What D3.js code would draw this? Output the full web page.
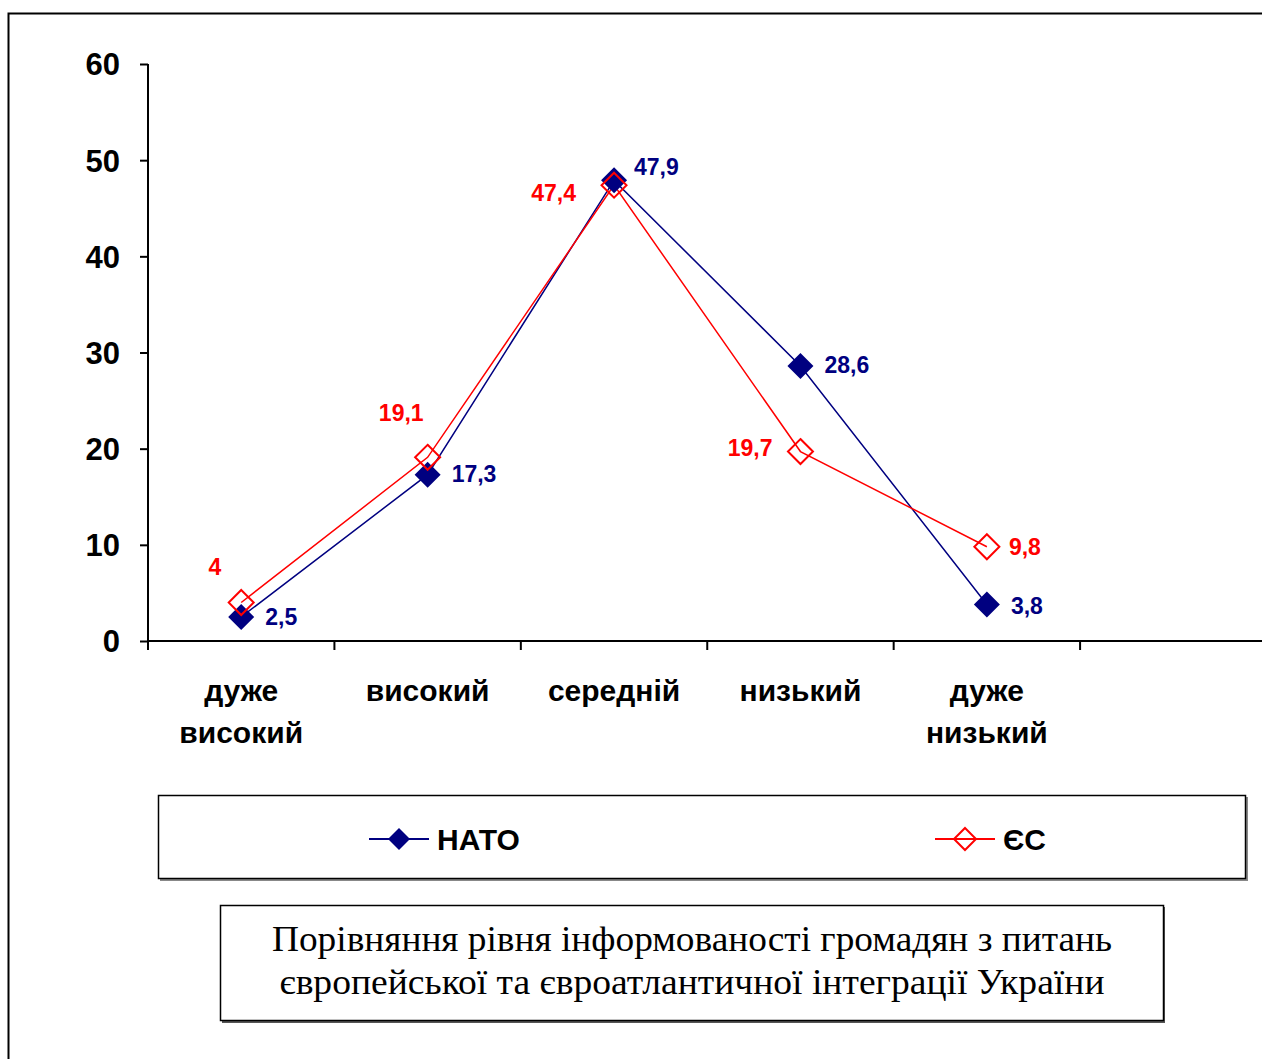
<!DOCTYPE html>
<html><head><meta charset="utf-8">
<script src="https://cdn.jsdelivr.net/npm/d3@7"></script>
<style>body{margin:0;background:#fff}svg{display:block}</style>
</head><body>
<svg id="c" width="1262" height="1059"></svg>
<script>
const categories = [["дуже","високий"],["високий"],["середній"],["низький"],["дуже","низький"]];
const natoValues = [2.5, 17.3, 47.9, 28.6, 3.8];
const esValues = [4, 19.1, 47.4, 19.7, 9.8];
const natoLabels = ["2,5","17,3","47,9","28,6","3,8"];
const esLabels = ["4","19,1","47,4","19,7","9,8"];
const yTicks = [0,10,20,30,40,50,60];
const seriesNames = ["НАТО","ЄС"];
const titleLines = ["Порівняння рівня інформованості громадян з питань","європейської та євроатлантичної інтеграції України"];
// label placement (layout only): [dx, dy, anchor]
const natoLabelPos = [[24,0,"start"],[24,-1,"start"],[20,-13,"start"],[24,-1,"start"],[24,1,"start"]];
const esLabelPos = [[-20,-36,"end"],[-4,-44,"end"],[-38,8,"end"],[-28,-4,"end"],[22,0,"start"]];

const svg = d3.select("#c");
const font = "'Liberation Sans', Arial, sans-serif";
const navy = "#000080", red = "#ff0000";

// outer frame
svg.append("path").attr("d","M8.5,1062 L8.5,13.5 L1265,13.5").attr("fill","none").attr("stroke","#000").attr("stroke-width",2);

const x = d3.scaleBand().domain(d3.range(6)).range([148, 1266.5]).paddingInner(0).paddingOuter(0);
const y = d3.scaleLinear().domain([0,60]).range([641, 64]);
const cx = i => x(i) + x.bandwidth()/2;

// y axis
const ya = svg.append("g").attr("transform","translate(148,0)")
  .call(d3.axisLeft(y).tickValues(yTicks).tickSize(8).tickPadding(20).tickFormat(d3.format("d")));
ya.select(".domain").attr("d","M0,64V641").attr("stroke","#000").attr("stroke-width",2);
ya.selectAll(".tick line").attr("stroke","#000").attr("stroke-width",2);
ya.selectAll(".tick text").attr("font-family",font).attr("font-weight","bold").attr("font-size",31).attr("fill","#000").attr("dy","0.35em");

// x axis
const xa = svg.append("g").attr("transform","translate(0,641)")
  .call(d3.axisBottom(x).tickValues([]).tickSizeOuter(0));
xa.select(".domain").attr("d","M148,0H1262").attr("stroke","#000").attr("stroke-width",2);
svg.append("g").selectAll("line").data(d3.range(6)).join("line")
  .attr("x1",d=>x(d)).attr("x2",d=>x(d)).attr("y1",641).attr("y2",650)
  .attr("stroke","#000").attr("stroke-width",2);

// category labels
categories.forEach((lines,i)=>{
  const t = svg.append("text").attr("x",cx(i)).attr("y",701).attr("text-anchor","middle")
    .attr("font-family",font).attr("font-weight","bold").attr("font-size",30).attr("fill","#000");
  lines.forEach((l,k)=>t.append("tspan").attr("x",cx(i)).attr("dy",k?42:0).text(l));
});

const line = d3.line().x((d,i)=>cx(i)).y(d=>y(d));
const diamond = (px,py,r)=>`M${px},${py-r}L${px+r},${py}L${px},${py+r}L${px-r},${py}Z`;

svg.append("path").datum(natoValues).attr("d",line).attr("fill","none").attr("stroke",navy).attr("stroke-width",1.5);
svg.append("path").datum(esValues).attr("d",line).attr("fill","none").attr("stroke",red).attr("stroke-width",1.5);

svg.append("g").selectAll("path").data(natoValues).join("path")
  .attr("d",(d,i)=>diamond(cx(i),y(d),13)).attr("fill",navy);
svg.append("g").selectAll("path").data(esValues).join("path")
  .attr("d",(d,i)=>diamond(cx(i),y(d),12.5)).attr("fill","none").attr("stroke",red).attr("stroke-width",2);

// data labels
svg.append("g").selectAll("text").data(natoValues).join("text")
  .attr("x",(d,i)=>cx(i)+natoLabelPos[i][0]).attr("y",(d,i)=>y(d)+natoLabelPos[i][1])
  .attr("dy","0.35em").attr("text-anchor",(d,i)=>natoLabelPos[i][2])
  .attr("font-family",font).attr("font-weight","bold").attr("font-size",23).attr("fill",navy)
  .text((d,i)=>natoLabels[i]);
svg.append("g").selectAll("text").data(esValues).join("text")
  .attr("x",(d,i)=>cx(i)+esLabelPos[i][0]).attr("y",(d,i)=>y(d)+esLabelPos[i][1])
  .attr("dy","0.35em").attr("text-anchor",(d,i)=>esLabelPos[i][2])
  .attr("font-family",font).attr("font-weight","bold").attr("font-size",23).attr("fill",red)
  .text((d,i)=>esLabels[i]);

// legend box
svg.append("rect").attr("x",160).attr("y",797).attr("width",1088).attr("height",84).attr("fill","#888");
svg.append("rect").attr("x",158.5).attr("y",795.5).attr("width",1087).attr("height",83).attr("fill","#fff").attr("stroke","#000").attr("stroke-width",1.5);
const legendItems = [{name:seriesNames[0],x:369,color:navy,fill:navy},{name:seriesNames[1],x:935,color:red,fill:"none"}];
legendItems.forEach(it=>{
  svg.append("line").attr("x1",it.x).attr("x2",it.x+60).attr("y1",839).attr("y2",839).attr("stroke",it.color).attr("stroke-width",2);
  svg.append("path").attr("d",diamond(it.x+30,839,11)).attr("fill",it.fill).attr("stroke",it.fill==="none"?it.color:"none").attr("stroke-width",2);
  svg.append("text").attr("x",it.x+68).attr("y",839).attr("dy","0.35em").attr("font-family",font)
    .attr("font-weight","bold").attr("font-size",30).attr("fill","#000").text(it.name);
});

// title box
svg.append("rect").attr("x",222).attr("y",907).attr("width",943).attr("height",116).attr("fill","#555");
svg.append("rect").attr("x",220.5).attr("y",905.5).attr("width",943).attr("height",115).attr("fill","#fff").attr("stroke","#000").attr("stroke-width",1.5);
const tl = [[272,840,951],[279,825,994]];
titleLines.forEach((t,k)=>{
  svg.append("text").attr("x",692).attr("y",tl[k][2]).attr("text-anchor","middle")
    .attr("font-family","'Liberation Serif','Times New Roman',serif").attr("font-size",36)
    .attr("textLength",tl[k][1]).attr("lengthAdjust","spacingAndGlyphs").attr("fill","#000").text(t);
});
</script>
</body></html>
